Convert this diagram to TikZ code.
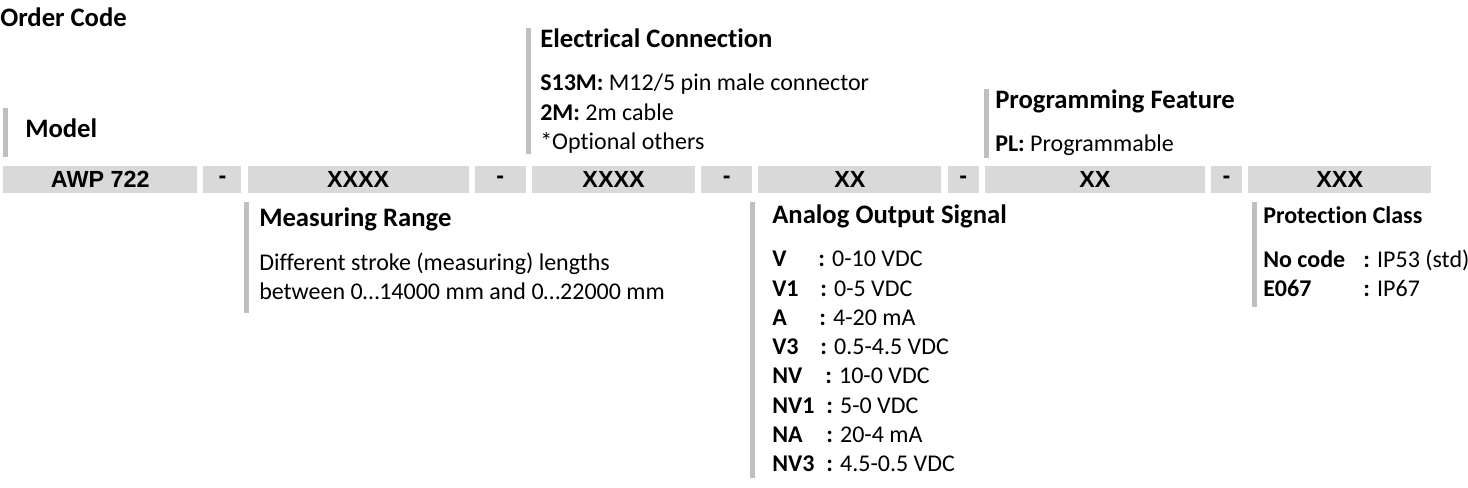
\documentclass[tikz,border=0pt]{standalone}
\usepackage{fontspec}
\setmainfont[Ligatures=NoCommon]{Carlito}
\newfontfamily\arialfont{Liberation Sans}
\usetikzlibrary{positioning}
\definecolor{cbarra}{HTML}{D9D9D9}
\definecolor{clinea}{HTML}{BFBFBF}
\tikzset{
  codigo/.style={rectangle, fill=cbarra, inner sep=0pt, minimum height=20.25pt,
    font=\arialfont\bfseries\fontsize{17.5}{20}\selectfont},
  titulo/.style={anchor=base west, inner sep=0pt, font=\bfseries\fontsize{20}{24}\selectfont},
  texto/.style={anchor=base west, inner sep=0pt, font=\fontsize{18}{22}\selectfont},
  clave/.style={texto, font=\bfseries\fontsize{18}{22}\selectfont},
  linea/.style={fill=clinea},
}

\begin{document}
\begin{tikzpicture}[x=0.75pt, y=-0.75pt, node distance=4.25pt]
  \useasboundingbox (0,0) rectangle (1468,488);
  % barra de codigos
  \node[codigo, minimum width=145.5pt, anchor=north west] (awp) at (3,166) {AWP 722};
  \node[codigo, minimum width=28.5pt, right=of awp] (g1) {-};
  \node[codigo, minimum width=165.75pt, right=of g1] (rango) {XXXX};
  \node[codigo, minimum width=38.25pt, right=of rango] (g2) {-};
  \node[codigo, minimum width=122.25pt, right=of g2] (conex) {XXXX};
  \node[codigo, minimum width=38.25pt, right=of conex] (g3) {-};
  \node[codigo, minimum width=137.25pt, right=of g3] (salida) {XX};
  \node[codigo, minimum width=23.25pt, right=of salida] (g4) {-};
  \node[codigo, minimum width=165pt, right=of g4] (prog) {XX};
  \node[codigo, minimum width=23.25pt, right=of prog] (g5) {-};
  \node[codigo, minimum width=137.25pt, right=of g5] (prot) {XXX};

  \node[titulo] (orden) at (0,27) {Order Code};

  % modelo
  \fill[linea] (3,108) rectangle (8,157);
  \node[titulo] (modelo) at (25,138) {Model};

  % conexion electrica
  \fill[linea] (526,28) rectangle (531,154);
  \node[titulo] (conex-t) at (540,48) {Electrical Connection};
  \node[texto] (conex-1) at (540,91) {\textbf{S13M:} M12/5 pin male connector};
  \node[texto] (conex-2) at (540,121) {\textbf{2M:} 2m cable};
  \node[texto] (conex-3) at (540,150) {*Optional others};

  % programacion
  \fill[linea] (984,89) rectangle (989,158);
  \node[titulo] (prog-t) at (995,109) {Programming Feature};
  \node[texto] (prog-1) at (995,152) {\textbf{PL:} Programmable};

  % rango de medida
  \fill[linea] (244,202) rectangle (249,313);
  \node[titulo] (rango-t) at (259,227) {Measuring Range};
  \node[texto] (rango-1) at (259,271) {Different stroke (measuring) lengths};
  \node[texto] (rango-2) at (259,300) {between 0\ldots14000 mm and 0\ldots22000 mm};

  % salida analogica
  \fill[linea] (750,202) rectangle (755,478);
  \node[titulo] (salida-t) at (772,224) {Analog Output Signal};
  \foreach \k/\cx/\v [count=\i] in {V/818/0-10 VDC, V1/820/0-5 VDC, A/819/4-20 mA,
      V3/820/0.5-4.5 VDC, NV/825/10-0 VDC, NV1/826/5-0 VDC, NA/826/20-4 mA, NV3/826/4.5-0.5 VDC}{
    \node[clave] (sal-k\i) at (772,{267+(\i-1)*29.2}) {\k};
    \node[texto] (sal-v\i) at (\cx,{267+(\i-1)*29.2}) {\textbf{:} \v};
  }

  % proteccion
  \fill[linea] (1252,202) rectangle (1257,307);
  \node[clave] (prot-t) at (1263,224) {Protection Class};
  \node[clave] (prot-k1) at (1263,268) {No code};
  \node[texto] (prot-v1) at (1363,268) {\textbf{:} IP53 (std)};
  \node[clave] (prot-k2) at (1263,297) {E067};
  \node[texto] (prot-v2) at (1363,297) {\textbf{:} IP67};
\end{tikzpicture}
\end{document}
